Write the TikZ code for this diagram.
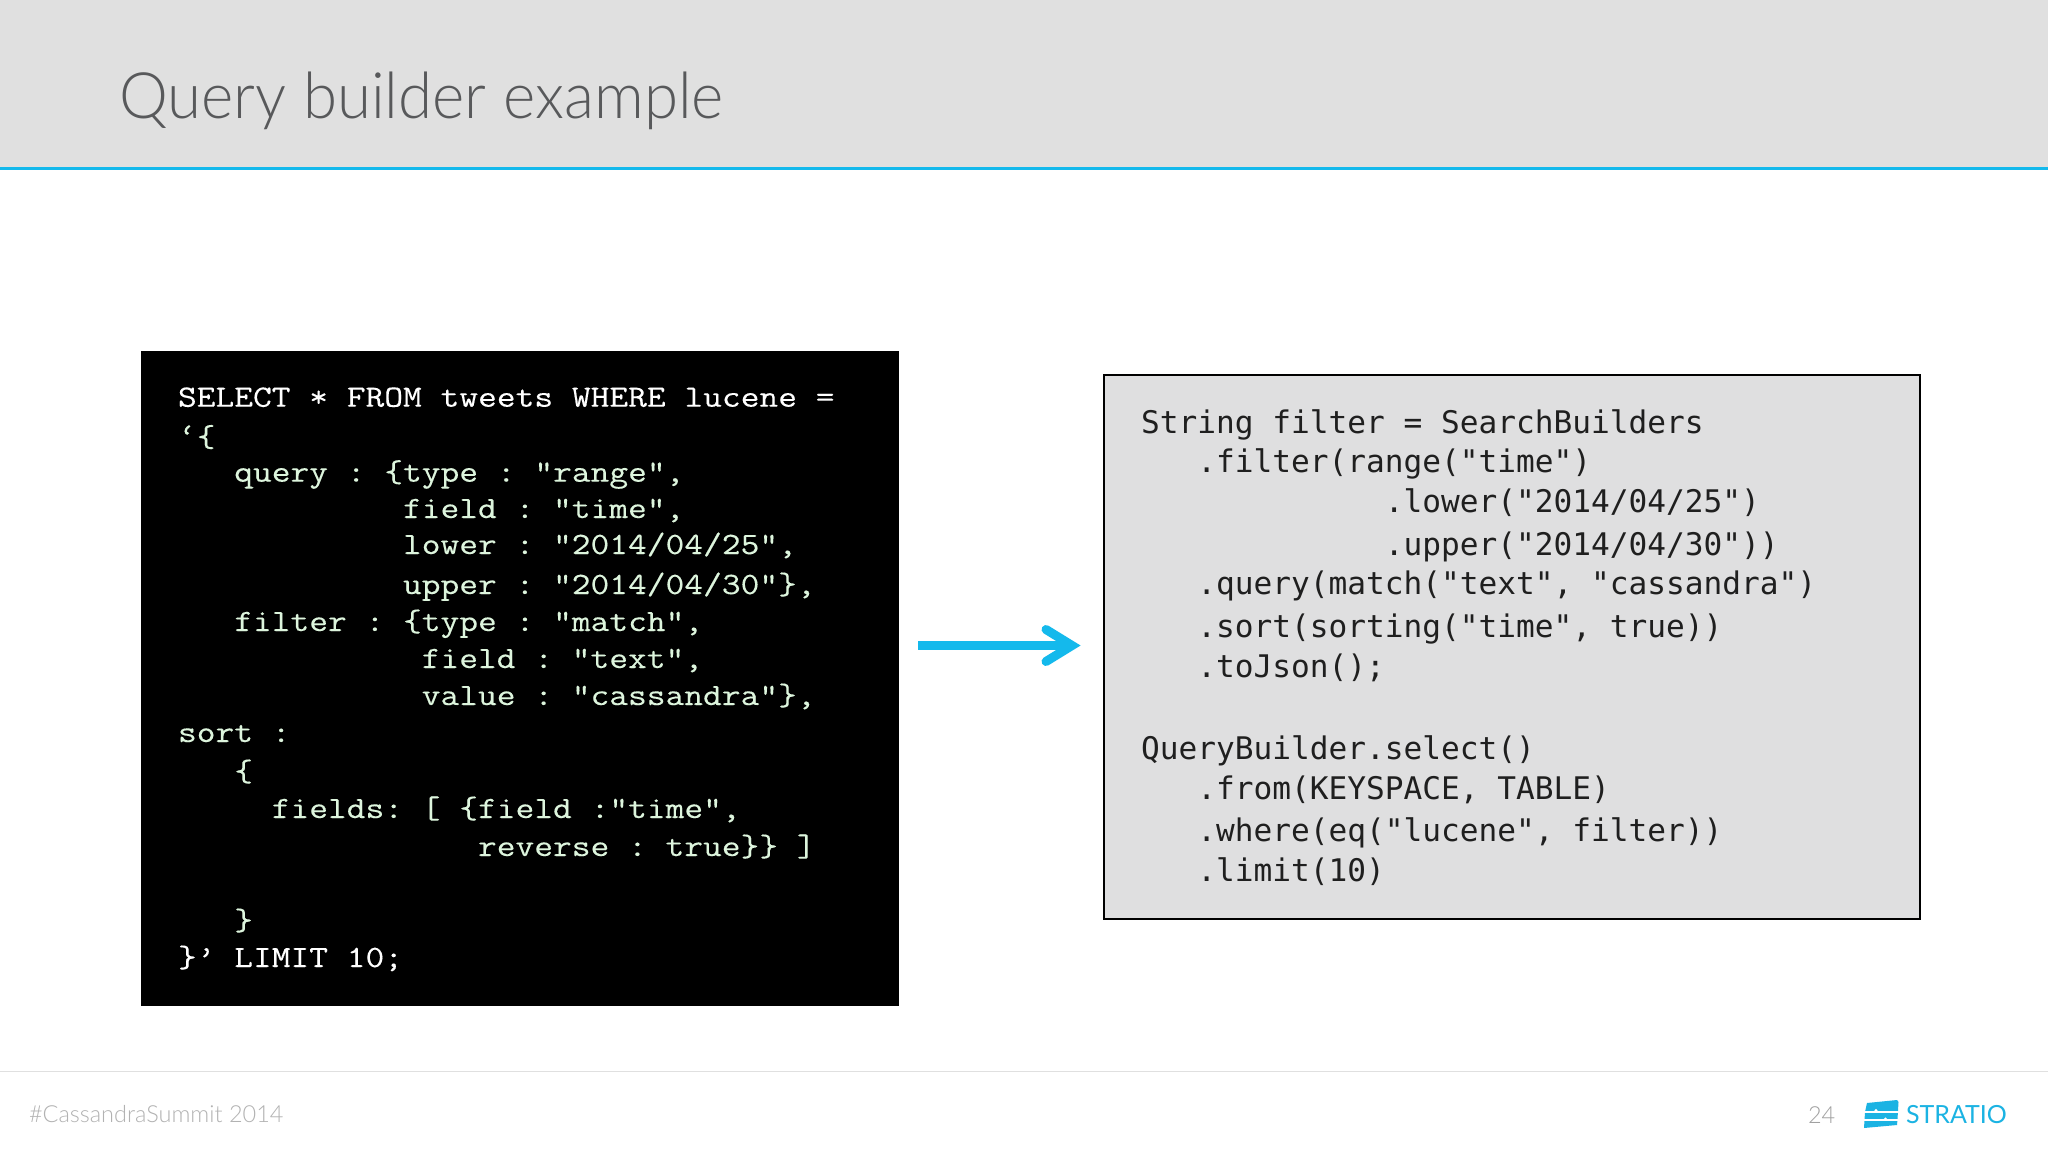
\documentclass[tikz,border=0pt]{standalone}
\usepackage{fontspec}
\setmainfont{Lato}
\newfontfamily\titlefont[UprightFont={* Light},FakeStretch=0.965]{Lato}
\newfontfamily\footfont[UprightFont={* Light}]{Lato}
\newfontfamily\leftcode[FakeStretch=1.175,FakeBold=0.25,Ligatures=NoCommon]{Latin Modern Mono}
\newfontfamily\rightcode[Ligatures=NoCommon]{DejaVu Sans Mono}
\definecolor{hdr}{HTML}{E0E0E0}
\definecolor{acc}{HTML}{14B9EC}
\definecolor{ttl}{HTML}{58595B}
\definecolor{foot}{HTML}{B2B2B2}
\definecolor{pale}{HTML}{DDF5DD}
\definecolor{boxg}{HTML}{DFDFE0}
\definecolor{logoc}{HTML}{1BB3E3}
\tikzset{
  x=1pt,y=-1pt,
  txt/.style={anchor=base west,inner sep=0pt,outer sep=0pt},
  lc/.style={txt,text=pale,font=\leftcode\fontsize{31}{37}\selectfont\frenchspacing},
  lw/.style={lc,text=white},
  rc/.style={txt,text=black!88,font=\rightcode\fontsize{31.15}{37}\selectfont\frenchspacing},
}
\newcommand{\LL}[3]{\node[lc] (l#1) at ({178+18.75*#2},#1) {#3};}
\newcommand{\RR}[3]{\node[rc] (r#1) at ({1141+18.75*#2},#1) {#3};}
\begin{document}
\begin{tikzpicture}
\useasboundingbox (0,0) rectangle (2048,1152);
\fill[white] (0,0) rectangle (2048,1152);
\fill[hdr] (0,0) rectangle (2048,167);
\fill[acc] (0,166.5) rectangle (2048,170);
\node[txt,text=ttl,font=\titlefont\fontsize{64}{70}\selectfont] (title) at (119,118) {Query builder example};

\node[fill=black,minimum width=758pt,minimum height=655pt,inner sep=0pt,anchor=north west] (leftbox) at (141,351) {};
\node[fill=boxg,draw=black,line width=2pt,minimum width=816pt,minimum height=544pt,inner sep=0pt,anchor=north west] (rightbox) at (1102.8,373.8) {};

\node[lw] (l406) at (178,406.7) {SELECT * FROM tweets WHERE lucene =};
\LL{446.5}{0}{‘\{}
\LL{481.7}{3}{query : \{type : "range",}
\LL{518}{12}{field : "time”,}
\LL{554}{12}{lower : "2014/04/25”,}
\LL{594}{12}{upper : "2014/04/30”\},}
\LL{631}{3}{filter : \{type : "match",}
\LL{668}{13}{field : "text",}
\LL{705}{13}{value : "cassandra"\},}
\LL{742}{0}{sort :}
\LL{781}{3}{\{}
\LL{818}{5}{fields: [ \{field :"time",}
\LL{856}{16}{reverse : true\}\} ]}
\LL{930}{3}{\}}
\node[lw] (l966) at (178,967) {\}’ LIMIT 10;};

\RR{433}{0}{String filter = SearchBuilders}
\RR{472.5}{3}{.filter(range("time")}
\RR{512}{13}{.lower("2014/04/25")}
\RR{555}{13}{.upper("2014/04/30"))}
\RR{594}{3}{.query(match("text", "cassandra")}
\RR{637}{3}{.sort(sorting("time", true))}
\RR{677}{3}{.toJson();}
\RR{759}{0}{QueryBuilder.select()}
\RR{799}{3}{.from(KEYSPACE, TABLE)}
\RR{841}{3}{.where(eq("lucene", filter))}
\RR{881}{3}{.limit(10)}

\coordinate (arrowstart) at (918,645.5);
\coordinate (arrowtip) at (1072,645.5);
\draw[acc,line width=9pt] (arrowstart) -- (arrowtip);
\draw[acc,line width=9pt,line cap=round,miter limit=10] (1046,629.5) -- (arrowtip) -- (1046,661.5);

\draw[black!12,line width=1.5pt] (0,1071.5) -- (2048,1071.5);
\node[txt,text=foot,font=\footfont\fontsize{23.5}{30}\selectfont] (foottext) at (29,1122.5) {\#CassandraSummit 2014};
\node[txt,text=foot!90!black,font=\footfont\fontsize{23.5}{30}\selectfont] (pagenum) at (1808,1123) {24};

% logo
\fill[logoc] (1867,1103) -- (1897,1100) -- (1898.5,1102) -- (1897.5,1119) -- (1897,1125) -- (1864,1128) -- (1865,1112) -- cycle;
\draw[white,line width=2pt] (1863,1111.5) -- (1899,1111.5) (1863,1120) -- (1899,1120);
\fill[white] (1876,1110.5) circle (1.6) (1885.5,1119) circle (1.6);
\node[txt,text=logoc,font=\fontsize{25}{30}\selectfont] (brand) at (1906,1123) {STRATIO};
\end{tikzpicture}
\end{document}
